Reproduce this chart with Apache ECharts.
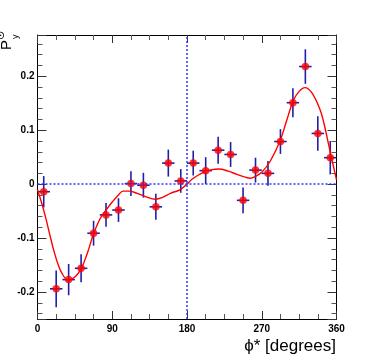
<!DOCTYPE html>
<html>
<head>
<meta charset="utf-8">
<script src="https://cdn.jsdelivr.net/npm/echarts@6/dist/echarts.min.js"></script>
<style>
  html, body { margin: 0; padding: 0; background: #fff; }
  #chart { width: 374px; height: 359px; }
</style>
</head>
<body>
<div id="chart"></div>
<script>
// bin centres (degrees), measured polarisation and its error
const phiBins = [7.5, 22.5, 37.5, 52.5, 67.5, 82.5, 97.5, 112.5, 127.5, 142.5, 157.5, 172.5,
  187.5, 202.5, 217.5, 232.5, 247.5, 262.5, 277.5, 292.5, 307.5, 322.5, 337.5, 352.5];
const polValues = [-0.014, -0.194, -0.177, -0.156, -0.091, -0.057, -0.048, 0.001, -0.002, -0.042, 0.039, 0.006,
  0.039, 0.025, 0.063, 0.055, -0.030, 0.026, 0.020, 0.079, 0.151, 0.218, 0.094, 0.049];
const polErrors = [0.029, 0.034, 0.029, 0.026, 0.023, 0.022, 0.022, 0.023, 0.023, 0.024, 0.025, 0.022,
  0.023, 0.025, 0.025, 0.023, 0.024, 0.023, 0.023, 0.023, 0.027, 0.032, 0.032, 0.031];
const binHalfWidth = 7.5;

// fit curve
const fitPhi = [0, 5, 10, 15, 20, 25, 30, 37, 45, 52.5, 60, 67.5, 75, 82.5, 90, 97.5, 103, 110, 120, 130,
  142, 150, 160, 172, 180, 186, 195, 203, 210, 218, 230, 240, 250, 256, 262, 270, 280, 292, 300, 308,
  315, 322, 330, 340, 345, 350, 355, 360];
const fitValues = [-0.010, -0.035, -0.063, -0.095, -0.125, -0.150, -0.167, -0.178, -0.172, -0.157, -0.128, -0.092,
  -0.065, -0.048, -0.033, -0.020, -0.013, -0.013, -0.017, -0.023, -0.028, -0.025, -0.017, -0.010, 0.000, 0.009,
  0.018, 0.024, 0.027, 0.028, 0.024, 0.018, 0.013, 0.011, 0.014, 0.022, 0.042, 0.080, 0.118, 0.155,
  0.172, 0.179, 0.170, 0.139, 0.112, 0.077, 0.042, 0.008];

const chart = echarts.init(document.getElementById('chart'));

const labelFont = { color: '#000', fontFamily: 'Liberation Sans', fontWeight: 'bold', fontSize: 10 };
const blueDots = { type: [2, 2], color: '#3535ff', width: 1.5 };

function xAx(pos, labels) {
  return {
    type: 'value', position: pos, min: 0, max: 360, interval: 90,
    axisLine: { show: true, onZero: false, lineStyle: { color: '#000', width: 1 } },
    axisTick: { show: true, inside: true, length: 8, lineStyle: { color: '#333' } },
    minorTick: { show: true, splitNumber: 4, length: 5, lineStyle: { color: '#555' } },
    splitLine: { show: false },
    axisLabel: Object.assign({ show: labels, margin: 5 }, labelFont),
  };
}
function yAx(pos, labels) {
  return {
    type: 'value', position: pos, min: -0.25, max: 0.2765, splitNumber: 5,
    axisLine: { show: true, onZero: false, lineStyle: { color: '#000', width: 1 } },
    axisTick: { show: true, inside: true, length: 9, lineStyle: { color: '#333' } },
    minorTick: { show: true, splitNumber: 5, length: 5, lineStyle: { color: '#555' } },
    splitLine: { show: false },
    axisLabel: Object.assign({ show: labels, margin: 3, showMinLabel: false, showMaxLabel: false }, labelFont),
  };
}

const option = {
  animation: false,
  backgroundColor: '#fff',
  grid: { left: 37.5, right: 37.5, top: 35, bottom: 40, containLabel: false },
  xAxis: [xAx('bottom', true), xAx('top', false)],
  yAxis: [yAx('left', true), yAx('right', false)],
  graphic: [
    {
      type: 'text', right: 38, top: 338,
      style: { text: 'ϕ* [degrees]', font: '17px "Liberation Sans", "DejaVu Sans"', fill: '#000' },
    },
    {
      type: 'group', x: 14, y: 50, rotation: Math.PI / 2,
      children: [
        { type: 'text', x: 0, y: 0, style: { text: 'P', font: '15px "Liberation Sans"', fill: '#000', textVerticalAlign: 'bottom' } },
        { type: 'text', x: 10, y: -7, style: { text: '⊙', font: '11px "DejaVu Sans"', fill: '#000', textVerticalAlign: 'bottom' } },
        { type: 'text', x: 11, y: -3, style: { text: 'y', font: '9px "Liberation Sans"', fill: '#000', textVerticalAlign: 'top' } },
      ],
    },
  ],
  series: [
    {
      type: 'custom',
      name: 'errors',
      z: 2,
      data: phiBins.map((p, i) => [p, polValues[i], polErrors[i]]),
      renderItem(params, api) {
        const x = api.value(0), y = api.value(1), e = api.value(2);
        const l = api.coord([x - binHalfWidth, y]);
        const r = api.coord([x + binHalfWidth, y]);
        const t = api.coord([x, y + e]);
        const b = api.coord([x, y - e]);
        const st = { stroke: '#1f1fa8', lineWidth: 1.6 };
        return {
          type: 'group',
          children: [
            { type: 'line', shape: { x1: l[0], y1: l[1], x2: r[0], y2: r[1] }, style: st },
            { type: 'line', shape: { x1: t[0], y1: t[1], x2: b[0], y2: b[1] }, style: st },
          ],
        };
      },
    },
    {
      type: 'line',
      name: 'fit',
      z: 3,
      data: fitPhi.map((p, i) => [p, fitValues[i]]),
      smooth: 0.4,
      showSymbol: false,
      lineStyle: { color: '#ff0000', width: 1.4 },
    },
    {
      type: 'scatter',
      name: 'data',
      z: 4,
      data: phiBins.map((p, i) => [p, polValues[i]]),
      symbol: 'circle',
      symbolSize: 7.5,
      itemStyle: { color: '#ff0000' },
      markLine: {
        silent: true,
        symbol: ['none', 'none'],
        label: { show: false },
        lineStyle: blueDots,
        data: [{ yAxis: 0 }, { xAxis: 180 }],
      },
    },
  ],
};

chart.setOption(option);
</script>
</body>
</html>
